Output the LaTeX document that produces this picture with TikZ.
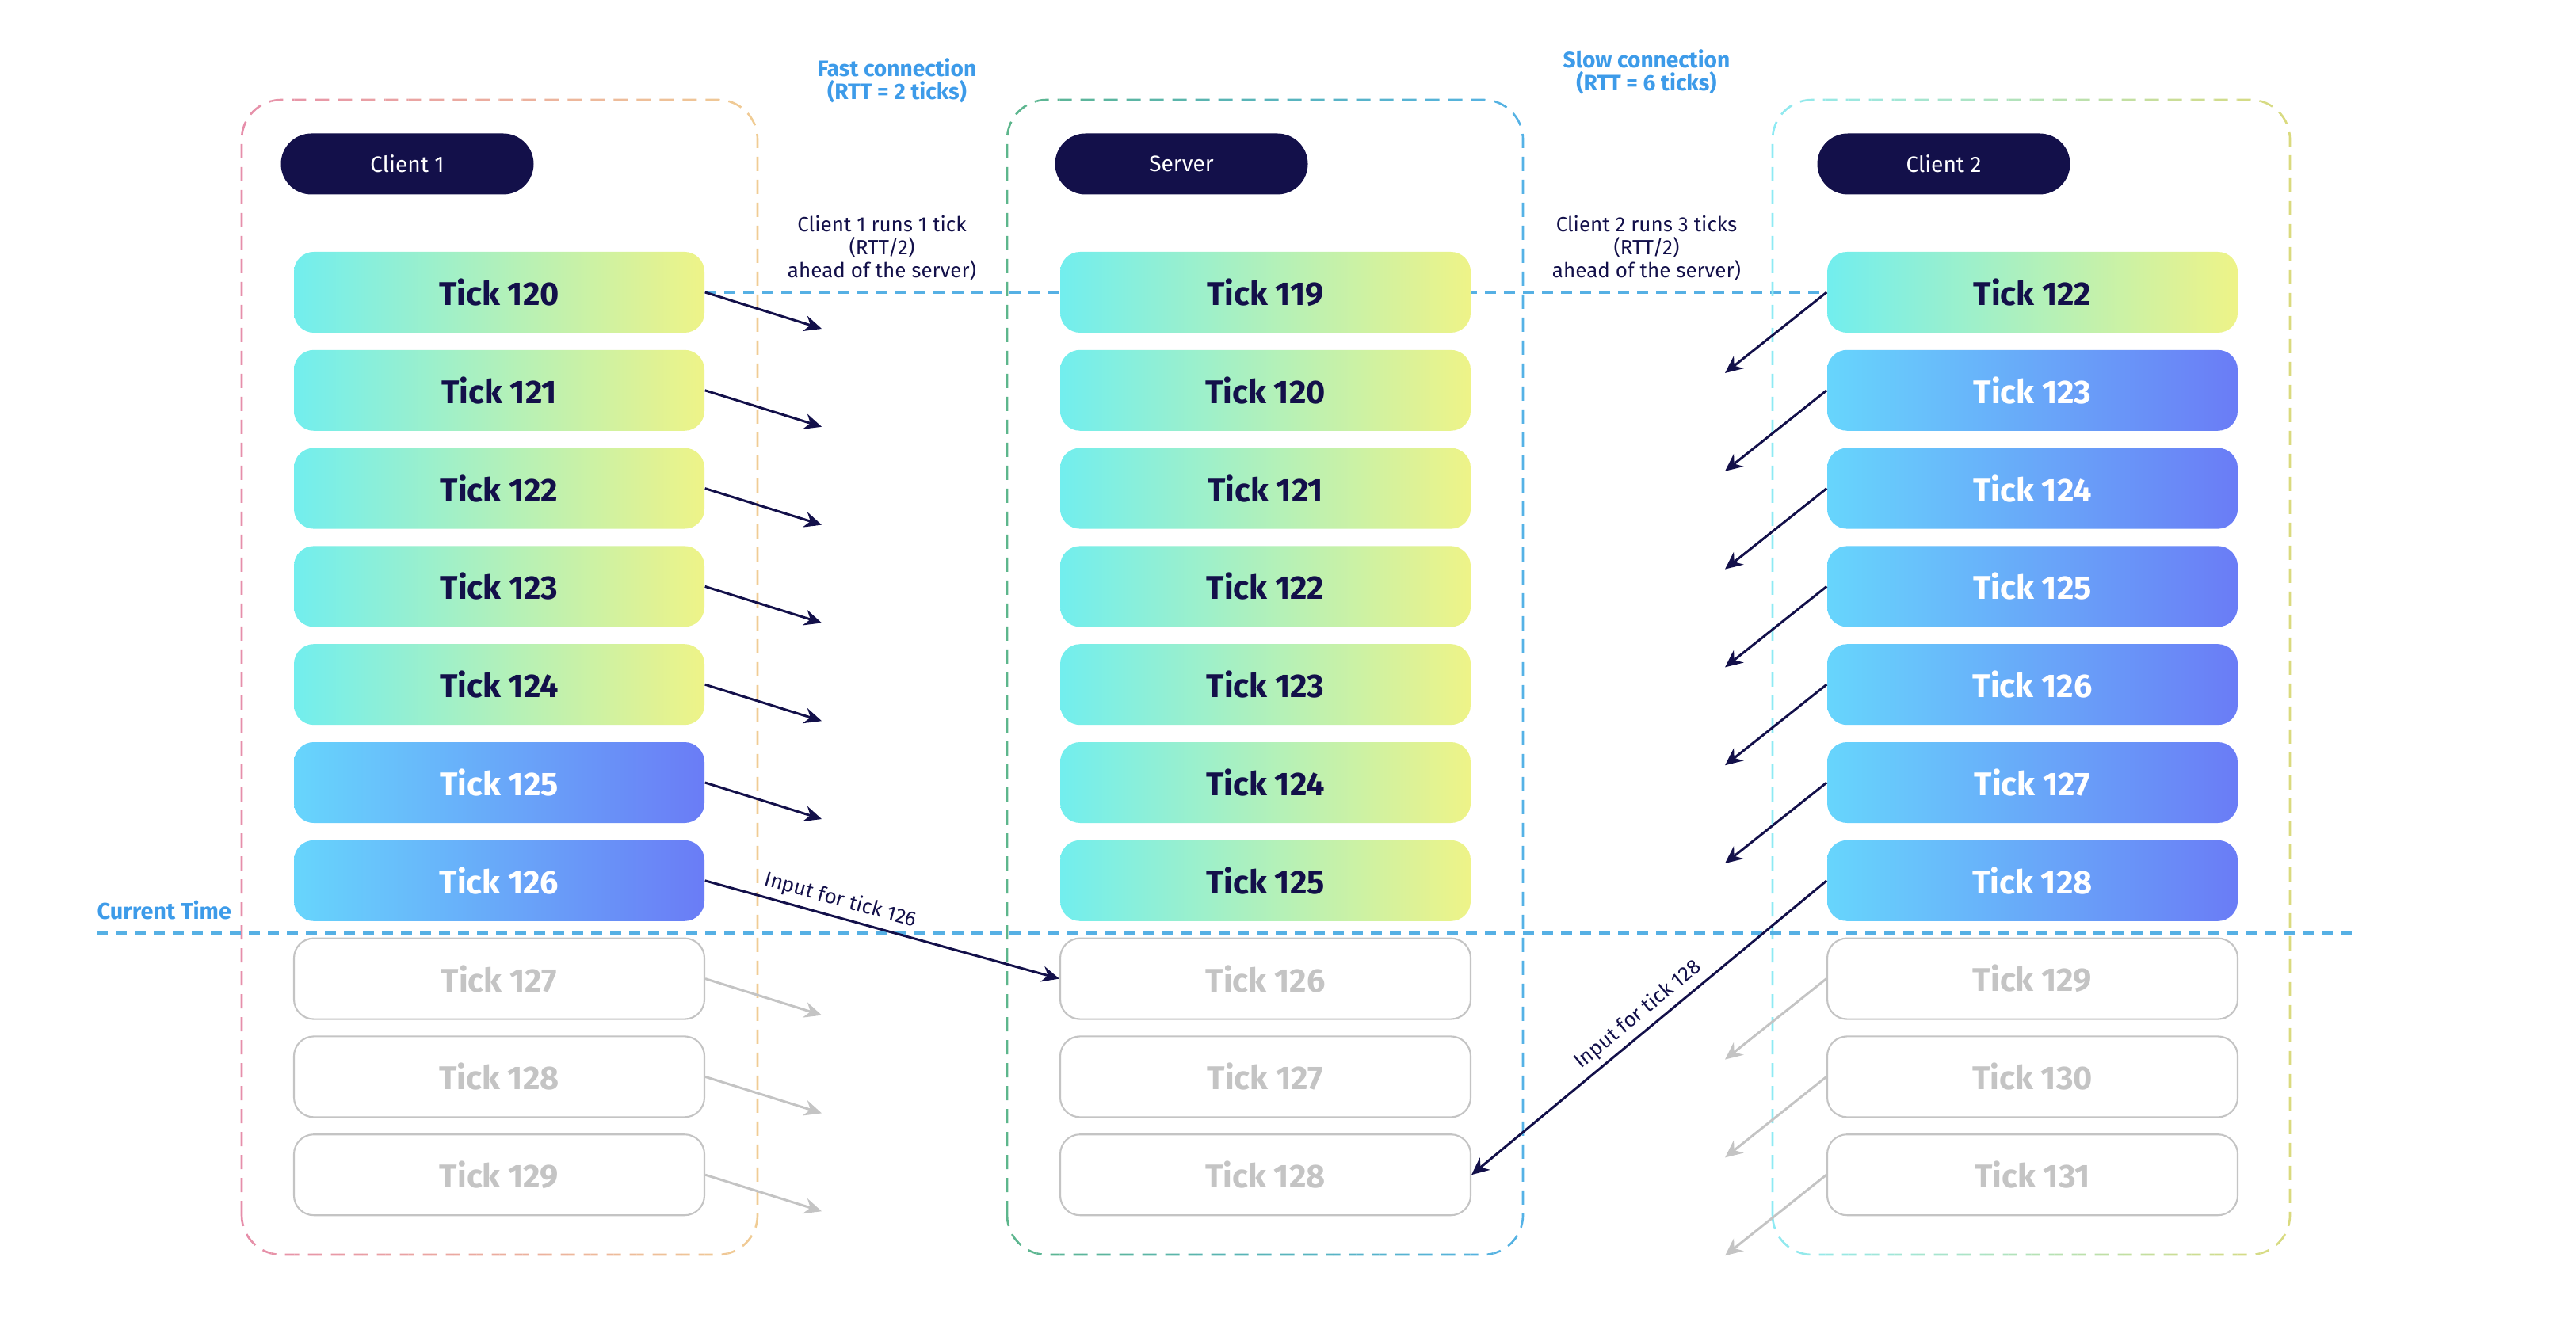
\documentclass[tikz,border=0pt]{standalone}
\usepackage{fontspec}
\setmainfont{Fira Sans}
\usetikzlibrary{arrows.meta,backgrounds}

\definecolor{navy}{HTML}{13104A}
\definecolor{skyblue}{HTML}{3D9BE9}
\definecolor{nowline}{HTML}{56B0E4}
\definecolor{tickgrey}{HTML}{C4C4C4}
\definecolor{pastl}{HTML}{72EEEE}
\definecolor{pastr}{HTML}{EEF388}
\definecolor{predl}{HTML}{67D5FC}
\definecolor{predr}{HTML}{6A7CF6}
\definecolor{laneAl}{HTML}{E68EAA}
\definecolor{laneAr}{HTML}{F0CC94}
\definecolor{laneSl}{HTML}{5DB68C}
\definecolor{laneSr}{HTML}{55B2E6}
\definecolor{laneBl}{HTML}{8EEAF4}
\definecolor{laneBr}{HTML}{DADA7E}

\tikzset{
  tickbox/.style={rounded corners=2.5mm, minimum width=5.18cm, minimum height=1.02cm,
    inner sep=0pt, font=\fontsize{11.8}{14}\selectfont\bfseries},
  pastbox/.style={tickbox, left color=pastl, right color=pastr, text=navy},
  predbox/.style={tickbox, left color=predl, right color=predr, text=white},
  futbox/.style={tickbox, draw=tickgrey, line width=0.6pt, fill=white, text=tickgrey},
  pill/.style={rounded corners=3.85mm, fill=navy, text=white, minimum width=3.19cm,
    minimum height=0.77cm, font=\fontsize{8}{10}\selectfont},
  note/.style={align=center, text=navy, font=\fontsize{7.4}{8.3}\selectfont},
  conn/.style={align=center, text=skyblue, font=\fontsize{8}{8.3}\selectfont\bfseries},
  sendarr/.style={navy, line width=0.85pt, -{Stealth[length=2.2mm, width=2mm]}},
  ghostarr/.style={sendarr, draw=tickgrey, fill=tickgrey},
  guide/.style={nowline, line width=1.1pt, dash pattern=on 1.4mm off 1mm},
  lanestroke/.style={line width=0.75pt, rounded corners=5mm, dash pattern=on 1.8mm off 1.1mm},
}

% dashed lane frame, colour running from left to right
\newcommand{\lanebox}[6]{%
  \foreach \k in {0,...,23} {
    \pgfmathtruncatemacro{\mixpct}{100-\k*100/23}
    \begin{scope}
      \clip ({#1-0.2+\k*(#3-#1+0.4)/24},{#2-0.2}) rectangle ({#1-0.2+(\k+1)*(#3-#1+0.4)/24},{#4+0.2});
      \draw[lanestroke, draw=#5!\mixpct!#6] (#1,#2) rectangle (#3,#4);
    \end{scope}
  }
}

\begin{document}
\begin{tikzpicture}
  \useasboundingbox (0,0) rectangle (32.51,16.68);

  % lanes
  \lanebox{3.05}{0.84}{9.56}{15.42}{laneAl}{laneAr}
  \lanebox{12.71}{0.84}{19.22}{15.42}{laneSl}{laneSr}
  \lanebox{22.37}{0.84}{28.90}{15.42}{laneBl}{laneBr}

  \node (pc1) at (5.14, 14.61) [pill] {Client 1};
  \node (psrv) at (14.91, 14.61) [pill] {Server};
  \node (pc2) at (24.53, 14.61) [pill] {Client 2};

  \node (fast) at (11.32, 15.66) [conn] {Fast connection\\(RTT = 2 ticks)};
  \node (slow) at (20.78, 15.77) [conn] {Slow connection\\(RTT = 6 ticks)};
  \node (ahead1) at (11.13, 13.55) [note] {Client 1 runs 1 tick\\(RTT/2)\\ahead of the server)};
  \node (ahead2) at (20.78, 13.55) [note] {Client 2 runs 3 ticks\\(RTT/2)\\ahead of the server)};

  % tick rows
  \foreach \i/\ka/\kb/\kc in {0/pastbox/pastbox/pastbox, 1/pastbox/pastbox/predbox,
      2/pastbox/pastbox/predbox, 3/pastbox/pastbox/predbox, 4/pastbox/pastbox/predbox,
      5/predbox/pastbox/predbox, 6/predbox/pastbox/predbox, 7/futbox/futbox/futbox,
      8/futbox/futbox/futbox, 9/futbox/futbox/futbox} {
    \pgfmathtruncatemacro{\na}{120+\i}
    \pgfmathtruncatemacro{\nb}{119+\i}
    \pgfmathtruncatemacro{\nc}{122+\i}
    \node (c1t\na) at (6.30, 12.99-1.238*\i) [\ka] {Tick \na};
    \node (srvt\nb) at (15.97, 12.99-1.238*\i) [\kb] {Tick \nb};
    \node (c2t\nc) at (25.65, 12.99-1.238*\i) [\kc] {Tick \nc};
  }

  \begin{pgfonlayer}{background}
    \draw[guide] (c1t120.east) -- (c2t122.west);
  \end{pgfonlayer}

  % current time
  \coordinate (now-w) at (1.22, 4.90);
  \coordinate (now-e) at (29.77, 4.90);
  \draw[guide] (now-w) -- (now-e);
  \node (nowlbl) at (1.22, 5.07) [anchor=base west, text=skyblue, font=\fontsize{8.2}{9}\selectfont\bfseries, inner sep=0pt] {Current Time};

  % inputs sent to the server
  \foreach \i in {0,...,9} {
    \coordinate (c1o\i) at (10.37, 12.99-1.238*\i-0.46);
    \coordinate (c2o\i) at (21.77, 12.99-1.238*\i-1.02);
  }
  \foreach \i in {0,...,5} {
    \pgfmathtruncatemacro{\na}{120+\i}
    \pgfmathtruncatemacro{\nc}{122+\i}
    \draw[sendarr] (c1t\na.east) -- (c1o\i);
    \draw[sendarr] (c2t\nc.west) -- (c2o\i);
  }
  \foreach \i in {7,8,9} {
    \pgfmathtruncatemacro{\na}{120+\i}
    \pgfmathtruncatemacro{\nc}{122+\i}
    \draw[ghostarr] (c1t\na.east) -- (c1o\i);
    \draw[ghostarr] (c2t\nc.west) -- (c2o\i);
  }

  \draw[sendarr] (c1t126.east) -- node[pos=0.37, above, sloped, note, inner sep=2pt] {Input for tick 126} (srvt126.west);
  \draw[sendarr] (c2t128.west) -- node[pos=0.5, above, sloped, note, inner sep=2pt] {Input for tick 128} (srvt128.east);
\end{tikzpicture}
\end{document}
